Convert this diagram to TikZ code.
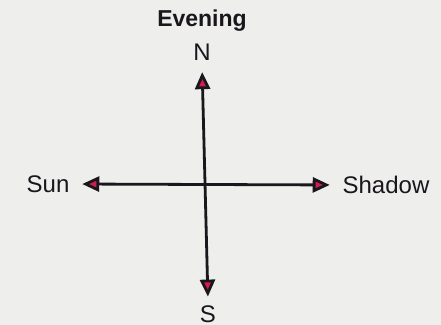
\documentclass[tikz,border=0pt]{standalone}
\usepackage{fontspec}
\setmainfont{Liberation Sans}
\usetikzlibrary{arrows.meta}
\definecolor{paper}{RGB}{238,238,236}
\definecolor{tipred}{RGB}{210,28,82}
\definecolor{ink}{RGB}{25,22,28}

\begin{document}
\begin{tikzpicture}[
        x=0.5pt, y=-0.5pt,
        >={Triangle[length=8.5pt,width=7.5pt,fill=tipred]},
        compass/.style={draw=ink, line width=1.4pt, <->},
        dir/.style={text=ink, inner sep=2pt, font=\fontsize{12}{14}\selectfont},
        title/.style={text=ink, inner sep=2pt, font=\fontsize{11.5}{14}\selectfont\bfseries}
      ]

      % background
      \fill[paper] (0,0) rectangle (441,325);
      \useasboundingbox (0,0) rectangle (441,325);

      \node[title] (evening) at (202,21) {Evening};

      % directions
      \node[dir] (n) at (202,52) {N};
      \node[dir] (s) at (208,314) {S};
      \node[dir] (sun) at (48,184) {Sun};
      \node[dir] (shadow) at (386,185) {Shadow};

      \draw[compass, shorten <=3.75pt, shorten >=2.25pt] (n.south) -- (s.north);
      \draw[compass, shorten <=4.25pt, shorten >=4.25pt] (sun.east) -- (shadow.west);

    \end{tikzpicture}
\end{document}
